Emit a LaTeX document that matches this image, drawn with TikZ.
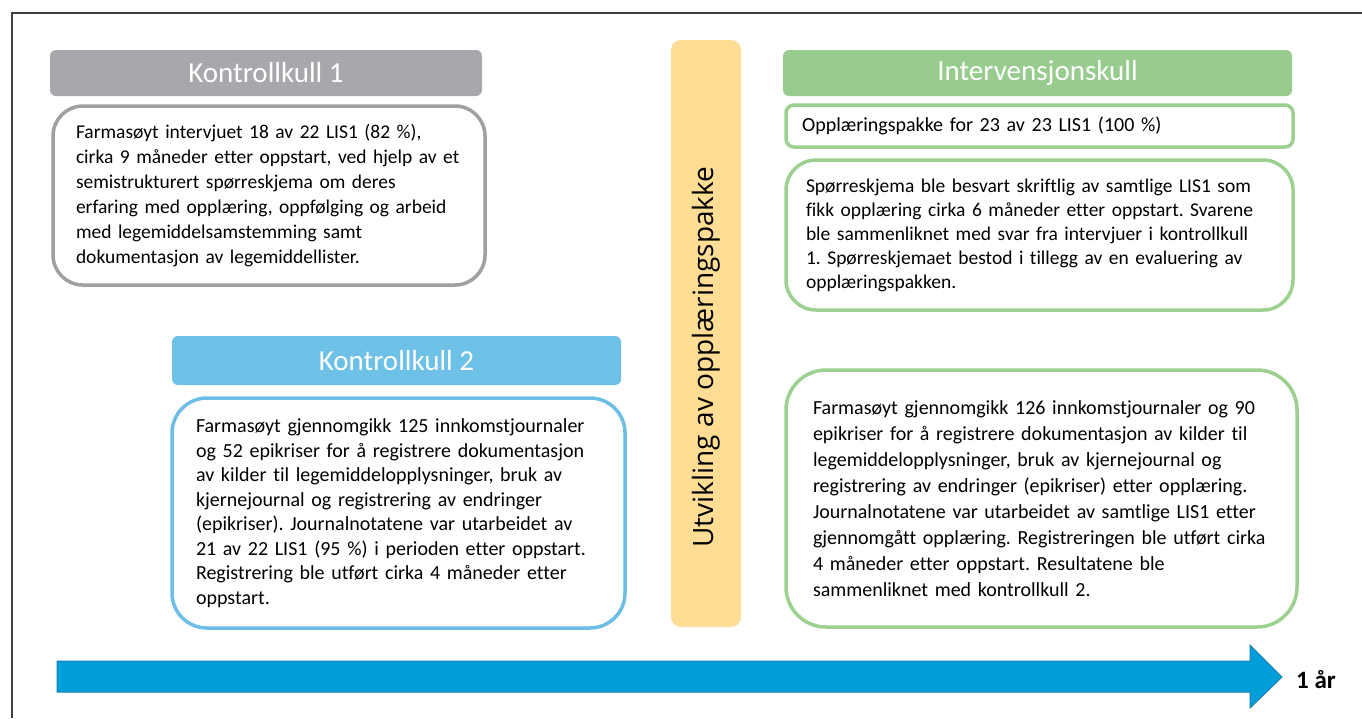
\documentclass[tikz,border=0pt]{standalone}
\usepackage{fontspec}
\setmainfont{Carlito}[Ligatures=NoCommon]
\newfontfamily\barfont{Open Sans}
\usepackage{tikz}
\usetikzlibrary{positioning}
\definecolor{headgray}{HTML}{A6A8AB}
\definecolor{linegray}{HTML}{9EA0A3}
\definecolor{headblue}{HTML}{6DC1E6}
\definecolor{lineblue}{HTML}{6CBEE6}
\definecolor{headgreen}{HTML}{98CC8E}
\definecolor{linegreen}{HTML}{9BD08F}
\definecolor{padyellow}{HTML}{FFDD94}
\definecolor{arrowblue}{HTML}{009FDA}
\definecolor{arrowedge}{HTML}{1A7FB0}
\definecolor{framegray}{HTML}{404040}
\frenchspacing
\tikzset{
  headbox/.style={rounded corners=6pt,inner sep=0pt,text=white,
    font=\fontsize{29}{32}\selectfont},
  bodybox/.style={draw,line width=3.5pt,fill=white,align=left,inner ysep=0pt,
    font=\fontsize{19.5}{25}\selectfont},
  timearrow/.style={fill=arrowblue,draw=arrowedge,line width=1pt}
}

\begin{document}
\begin{tikzpicture}[x=1pt,y=-1pt]
  \useasboundingbox (0,0) rectangle (1362,718);
  \draw[framegray,line width=1.5pt] (12,718) -- (12,13) -- (1362,13);

  % kontrollkull 1
  \node[headbox,fill=headgray,minimum width=432pt,minimum height=46pt]
    (k1head) at (266,73) {Kontrollkull 1};
  \node[bodybox,draw=linegray,rounded corners=30pt,minimum height=179pt,
        inner xsep=23pt,text width=386pt] (k1body) at (269,195.5)
    {Farmasøyt intervjuet 18 av 22 LIS1 (82 \%),\\
     cirka 9 måneder etter oppstart, ved hjelp av et\\
     semistrukturert spørreskjema om deres\\
     erfaring med opplæring, oppfølging og arbeid\\
     med legemiddelsamstemming samt\\
     dokumentasjon av legemiddellister.};

  % kontrollkull 2
  \node[headbox,fill=headblue,minimum width=449pt,minimum height=49pt]
    (k2head) at (396.5,360.5) {Kontrollkull 2};
  \node[bodybox,draw=lineblue,rounded corners=35pt,minimum height=230pt,
        inner xsep=24pt,text width=405pt,font=\fontsize{20}{24.5}\selectfont]
        (k2body) at (398.5,513)
    {Farmasøyt gjennomgikk 125 innkomstjournaler\\
     og 52 epikriser for å registrere dokumentasjon\\
     av kilder til legemiddelopplysninger, bruk av\\
     kjernejournal og registrering av endringer\\
     (epikriser). Journalnotatene var utarbeidet av\\
     21 av 22 LIS1 (95 \%) i perioden etter oppstart.\\
     Registrering ble utført cirka 4 måneder etter\\
     oppstart.};

  % opplæringspakke
  \node[fill=padyellow,rounded corners=10pt,minimum width=70pt,
        minimum height=587pt,inner sep=0pt] (pakke) at (706,333.5) {};
  \node[rotate=90,font=\barfont\fontsize{28}{32}\selectfont]
    (pakketekst) at (706,357) {Utvikling av opplæringspakke};

  % intervensjonskull
  \node[headbox,fill=headgreen,minimum width=509pt,minimum height=46pt]
    (ihead) at (1037.5,73) {Intervensjonskull};
  \node[bodybox,draw=linegreen,rounded corners=8pt,minimum height=42pt,
        inner xsep=16pt,text width=475pt,font=\fontsize{20}{22}\selectfont]
        (ipakke) at (1039.5,126)
    {Opplæringspakke for 23 av 23 LIS1 (100 \%)};
  \node[bodybox,draw=linegreen,rounded corners=30pt,minimum height=150pt,
        inner xsep=20pt,text width=467pt,font=\fontsize{19.5}{24}\selectfont]
        (ibody1) at (1039.5,235)
    {Spørreskjema ble besvart skriftlig av samtlige LIS1 som\\
     fikk opplæring cirka 6 måneder etter oppstart. Svarene\\
     ble sammenliknet med svar fra intervjuer i kontrollkull\\
     1. Spørreskjemaet bestod i tillegg av en evaluering av\\
     opplæringspakken.};
  \node[bodybox,draw=linegreen,rounded corners=40pt,minimum height=257pt,
        inner xsep=27pt,text width=457pt,font=\fontsize{20}{26}\selectfont]
        (ibody2) at (1041.5,498.5)
    {Farmasøyt gjennomgikk 126 innkomstjournaler og 90\\
     epikriser for å registrere dokumentasjon av kilder til\\
     legemiddelopplysninger, bruk av kjernejournal og\\
     registrering av endringer (epikriser) etter opplæring.\\
     Journalnotatene var utarbeidet av samtlige LIS1 etter\\
     gjennomgått opplæring. Registreringen ble utført cirka\\
     4 måneder etter oppstart. Resultatene ble\\
     sammenliknet med kontrollkull 2.};

  % tidslinje
  \draw[timearrow] (57,661) -- (1250,661) -- (1250,645) -- (1282,677)
    -- (1250,708) -- (1250,692) -- (57,692) -- cycle;
  \node[font=\bfseries\fontsize{25}{28}\selectfont] (aar) at (1316,680) {1 år};
\end{tikzpicture}
\end{document}
